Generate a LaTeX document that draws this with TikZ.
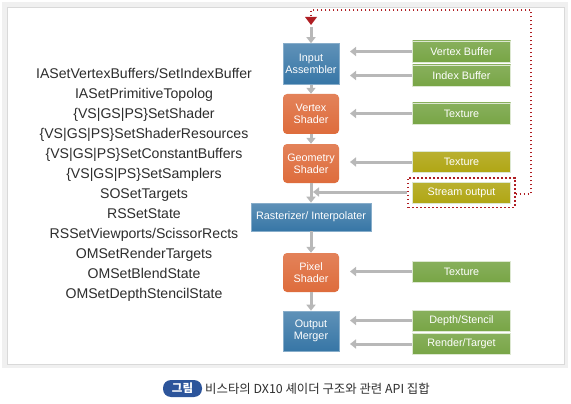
\documentclass[tikz,border=0pt]{standalone}
\usepackage{fontspec}
\setmainfont{Liberation Sans}
\newfontfamily\krfont{Noto Sans CJK KR}
\usetikzlibrary{arrows.meta,fit}
\definecolor{boxblue}{RGB}{55,118,166}
\definecolor{boxorange}{RGB}{222,108,60}
\definecolor{boxgreen}{RGB}{120,165,70}
\definecolor{boxolive}{RGB}{176,166,20}
\definecolor{arrgray}{RGB}{184,184,184}
\definecolor{dotred}{RGB}{175,30,35}
\definecolor{txtgray}{RGB}{45,45,45}
\definecolor{pillblue}{RGB}{45,85,155}
\tikzset{
  x=1pt,y=-1pt,
  stage/.style={text=white,font=\fontsize{10.8}{11.8}\selectfont,align=center,inner sep=0pt,
    minimum width=56pt,minimum height=40pt},
  bluebox/.style={stage,top color=boxblue!80!white,bottom color=boxblue,draw=boxblue!60!white,line width=0.6pt},
  orangebox/.style={stage,top color=boxorange!85!white,bottom color=boxorange,rounded corners=4pt},
  resbox/.style={text=white,font=\fontsize{10.8}{11.8}\selectfont,inner sep=0pt,
    minimum width=98pt,minimum height=21pt,draw=white!75!boxgreen,line width=0.6pt},
  greenbox/.style={resbox,top color=boxgreen!88!white,bottom color=boxgreen},
  olivebox/.style={resbox,top color=boxolive!88!white,bottom color=boxolive},
  garrow/.style={draw=arrgray,line width=3pt,-{Triangle[width=9pt,length=6pt]}},
  redline/.style={draw=dotred,line width=1.6pt,dash pattern=on 1.6pt off 2.4pt},
  apitext/.style={text=txtgray,font=\fontsize{14.1}{20}\selectfont,align=center}
}
\begin{document}
\begin{tikzpicture}
\useasboundingbox (0,0) rectangle (571,404);
% frame
\fill[gray!12] (2,2) rectangle (568,368);
\draw[gray!30,fill=white,line width=0.8pt] (7,7) rectangle (564,364);

% left API list
\node[apitext] (api) at (144,184.5) {IASetVertexBuffers/SetIndexBuffer\\
IASetPrimitiveTopolog\\
\{VS|GS|PS\}SetShader\\
\{VS|GS|PS\}SetShaderResources\\
\{VS|GS|PS\}SetConstantBuffers\\
\{VS|GS|PS\}SetSamplers\\
SOSetTargets\\
RSSetState\\
RSSetViewports/ScissorRects\\
OMSetRenderTargets\\
OMSetBlendState\\
OMSetDepthStencilState};

% pipeline stages
\node[bluebox,minimum height=41pt] (ia) at (311,64) {Input\\Assembler};
\node[orangebox] (vs) at (311,114) {Vertex\\Shader};
\node[orangebox,minimum height=39pt] (gs) at (311,163.5) {Geometry\\Shader};
\node[bluebox,minimum width=120pt,minimum height=28pt] (rs) at (311,217) {Rasterizer/ Interpolater};
\node[orangebox,minimum height=39pt] (ps) at (311,272.5) {Pixel\\Shader};
\node[bluebox] (om) at (311,331) {Output\\Merger};

% resources
\node[greenbox] (vb) at (461.5,51.5) {Vertex Buffer};
\node[greenbox] (ib) at (461.5,75.5) {Index Buffer};
\node[greenbox] (tx1) at (461.5,113.5) {Texture};
\node[olivebox] (tx2) at (461.5,162) {Texture};
\node[olivebox] (so) at (461.5,192.5) {Stream output};
\node[greenbox] (tx3) at (461.5,271.5) {Texture};
\node[greenbox] (ds) at (461.5,320.5) {Depth/Stencil};
\node[greenbox] (rt) at (461.5,344) {Render/Target};

\node[redline,draw,fit=(so),inner sep=4pt] (sobox) {};

% coordinates
\coordinate (top) at (311,27);
\coordinate (red1) at (531,194);
\coordinate (red2) at (531,10);
\coordinate (red3) at (311,10);
\coordinate (sotip) at (313,192);
\foreach \n/\y in {a1/51.5,a2/75.5,a3/113.5,a4/162,a5/271.5,a6/320.5,a7/344}
  \coordinate (\n) at (350,\y);

% vertical flow
\draw[garrow] (top) -- (ia.north);
\draw[garrow] (ia.south) -- (vs.north);
\draw[garrow] (vs.south) -- (gs.north);
\draw[garrow] (gs.south) -- (rs.north);
\draw[garrow] (rs.south) -- (ps.north);
\draw[garrow] (ps.south) -- (om.north);

% resource arrows
\draw[garrow] (vb.west) -- (a1);
\draw[garrow] (ib.west) -- (a2);
\draw[garrow] (tx1.west) -- (a3);
\draw[garrow] (tx2.west) -- (a4);
\draw[garrow] (sobox.west |- sotip) -- (sotip);
\draw[garrow] (tx3.west) -- (a5);
\draw[garrow] (ds.west) -- (a6);
\draw[garrow] (rt.west) -- (a7);

% feedback
\draw[redline] (sobox.east |- red1) -- (red1) -- (red2) -- (red3) -- (311,18);
\fill[dotred] (305,17) -- (317,17) -- (311,25) -- cycle;

% caption
\node[fill=pillblue,rounded corners=8pt,minimum width=39pt,minimum height=17pt,inner sep=0pt,
  text=white,font=\krfont\bfseries\fontsize{11.5}{12}\selectfont] (pill) at (182.5,388.5) {그림};
\node[anchor=west,text=txtgray,inner sep=0pt,font=\krfont\fontsize{12.4}{13}\selectfont] (cap)
  at (205,389) {비스타의 DX10 셰이더 구조와 관련 API 집합};
\end{tikzpicture}
\end{document}
